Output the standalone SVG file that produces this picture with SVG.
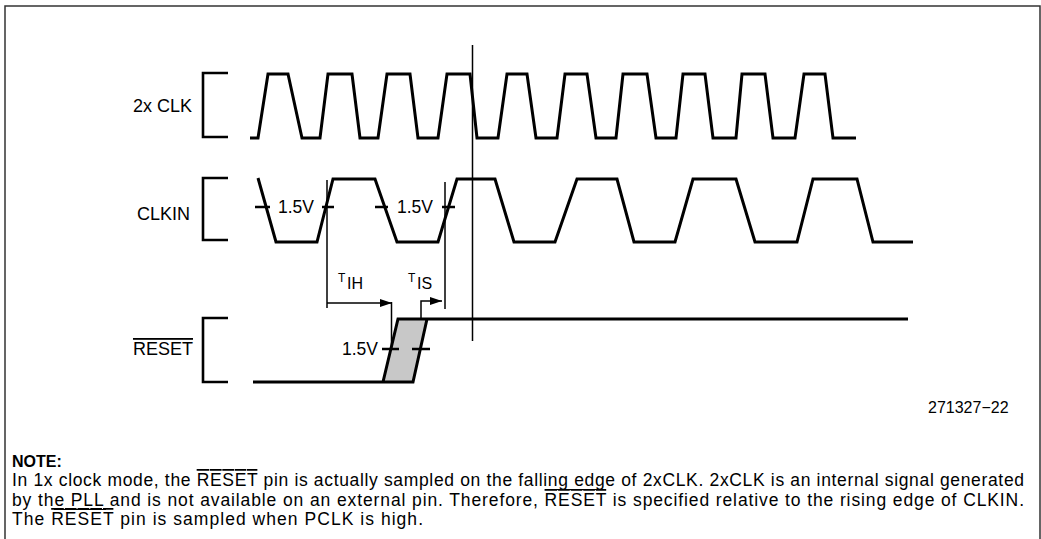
<svg xmlns="http://www.w3.org/2000/svg" width="1041" height="539" viewBox="0 0 1041 539">
<defs>
<marker id="ah" viewBox="0 0 12 8" refX="12" refY="4" markerWidth="12" markerHeight="8" markerUnits="userSpaceOnUse" orient="auto"><path d="M0,0 L12,4 L0,8 z" fill="#000"/></marker>
</defs>
<style>
.wave{fill:none;stroke:#000;stroke-width:3;stroke-linejoin:miter}
.br{fill:none;stroke:#000;stroke-width:2.6}
.thin{fill:none;stroke:#000;stroke-width:1.5}
.tick{fill:none;stroke:#000;stroke-width:2.5}
.rule{fill:none;stroke:#000;stroke-width:1.2}
.shade{fill:#c8c8c8;stroke:none}
text{font-family:"Liberation Sans",Arial,Helvetica,sans-serif;fill:#000}
.lbl{font-size:18px}
.v{font-size:17.5px}
.tsm{font-size:12px}
.tbig{font-size:16px}
.note{font-size:17.5px}
.nb{font-size:16px;font-weight:bold}
.ov{text-decoration:overline}
</style>
<rect width="1041" height="539" fill="#fff"/>
<path d="M5,539 V6 H1040 V539" fill="none" stroke="#333" stroke-width="1.5"/>

<g id="sig-2xclk">
<text class="lbl" x="192" y="112" text-anchor="end">2x CLK</text>
<path class="br" d="M228,73 H203 V137 H228"/>
<path class="wave" d="M250,138 H258 L268,74 H288 L302,138 H320 L328,74 H352 L360,138 H378 L387,74 H410 L418,138 H438 L447,74 H470 L477,138 H498 L507,74 H527 L536,138 H557 L565,74 H587 L596,138 H616 L623,74 H647 L656,138 H676 L683,74 H705 L713,138 H736 L742,74 H765 L773,138 H795 L804,74 H825 L833,138 H856"/>
</g>

<g id="sig-clkin">
<text class="lbl" x="190" y="220" text-anchor="end">CLKIN</text>
<path class="br" d="M228,178 H203 V240 H228"/>
<path class="wave" d="M258,178 L276,242 H317 L333,179 H375 L397,242 H438 L457,179 H495 L514,242 H555 L577,179 H617 L634,242 H675 L693,179 H736 L755,242 H797 L813,179 H857 L873,242 H913"/>
<path class="tick" d="M255,207 H270 M322,207 H334 M375,207 H388 M442,207 H455"/>
<text class="v" x="278" y="213">1.5V</text>
<text class="v" x="397" y="213">1.5V</text>
</g>

<g id="sig-reset">
<text class="lbl ov" x="193" y="355" text-anchor="end">RESET</text>
<path class="br" d="M228,318 H203 V382 H228"/>
<polygon class="shade" points="383,382 398,319 427,319 413,382"/>
<path class="wave" d="M253,382 H413 L427,319 M383,382 L398,319 H908"/>
<path class="tick" d="M382,349 H399 M412,349 H430"/>
<text class="v" x="342" y="355">1.5V</text>
</g>

<g id="connectors">
<path class="thin" d="M472.5,45 V341"/>
<path class="thin" d="M327,180 V308"/>
<path class="thin" d="M445,182 V309"/>
<path class="thin" d="M327,303 H392" marker-end="url(#ah)"/>
<path class="thin" d="M391.5,302 V350"/>
<path class="thin" d="M421,318 V301 H442" marker-end="url(#ah)"/>
<text class="tsm" x="338" y="282">T</text><text class="tbig" x="347" y="289">IH</text>
<text class="tsm" x="408" y="282">T</text><text class="tbig" x="417" y="289">IS</text>
</g>

<g id="figure-id">
<text x="928" y="413" font-size="16">271327−22</text>
</g>

<g id="note">
<text class="nb" x="12" y="467">NOTE:</text>
<text class="note" x="12" y="486" textLength="1012" lengthAdjust="spacing">In 1x clock mode, the <tspan class="ov">RESET</tspan> pin is actually sampled on the falling edge of 2xCLK. 2xCLK is an internal signal generated</text>
<text class="note" x="12" y="506" textLength="1012" lengthAdjust="spacing">by the PLL and is not available on an external pin. Therefore, <tspan class="ov">RESET</tspan> is specified relative to the rising edge of CLKIN.</text>
<text class="note" x="12" y="525" textLength="411" lengthAdjust="spacing">The <tspan class="ov">RESET</tspan> pin is sampled when PCLK is high.</text>
<path class="rule" d="M549,489.5 H606 M54,509.5 H106"/>
</g>
</svg>
